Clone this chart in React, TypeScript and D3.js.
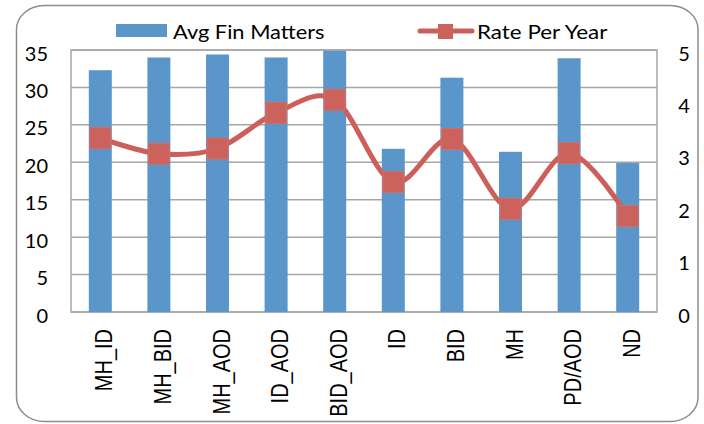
import { useEffect, useRef } from "react";
import * as d3 from "d3";

const categories = ["MH_ID", "MH_BID", "MH_AOD", "ID_AOD", "BID_AOD", "ID", "BID", "MH", "PD/AOD", "ND"];
const avgFinMatters = [32.3, 34.0, 34.4, 34.0, 34.9, 21.8, 31.3, 21.4, 33.9, 19.9];
const ratePerYear = [3.32, 3.02, 3.12, 3.8, 4.05, 2.48, 3.3, 1.97, 3.03, 1.83];
const leftTicks = [0, 5, 10, 15, 20, 25, 30, 35];
const rightTicks = [0, 1, 2, 3, 4, 5];

const W = 704;
const H = 424;
const PLOT = { left: 71, right: 657, top: 50, bottom: 312 };
const BAR = "#5B96CB";
const RED = "#CD5F5A";
const GRID = "#A6A6A6";
const SX = 1.18; // category labels look stretched sideways
const TICK_FONT = "Lato, 'Open Sans', sans-serif";

export default function App() {
  const svgRef = useRef<SVGSVGElement>(null);

  useEffect(() => {
    const svg = d3.select(svgRef.current);
    svg.selectAll("*").remove();

    const x = d3.scaleBand().domain(categories).range([PLOT.left, PLOT.right]).paddingInner(0).paddingOuter(0);
    const yL = d3.scaleLinear().domain([0, 35]).range([PLOT.bottom, PLOT.top]);
    const yR = d3.scaleLinear().domain([0, 5]).range([PLOT.bottom, PLOT.top]);
    const cx = (i: number) => x(categories[i])! + x.bandwidth() / 2;

    // outer frame
    svg
      .append("rect")
      .attr("x", 16.5)
      .attr("y", 5.5)
      .attr("width", 681.5)
      .attr("height", 416)
      .attr("rx", 28)
      .attr("ry", 24)
      .attr("fill", "#fff")
      .attr("stroke", "#8c8c8c")
      .attr("stroke-width", 1.5);

    // grid
    svg
      .append("g")
      .selectAll("line")
      .data(leftTicks)
      .join("line")
      .attr("x1", PLOT.left)
      .attr("x2", PLOT.right)
      .attr("y1", (d) => yL(d))
      .attr("y2", (d) => yL(d))
      .attr("stroke", GRID)
      .attr("stroke-width", 1.5);

    svg
      .append("rect")
      .attr("x", PLOT.left)
      .attr("y", PLOT.top)
      .attr("width", PLOT.right - PLOT.left)
      .attr("height", PLOT.bottom - PLOT.top)
      .attr("fill", "none")
      .attr("stroke", GRID)
      .attr("stroke-width", 1.5);

    // bars
    const bw = 23;
    svg
      .append("g")
      .selectAll("rect")
      .data(avgFinMatters)
      .join("rect")
      .attr("x", (_, i) => cx(i) - bw / 2)
      .attr("y", (d) => yL(d))
      .attr("width", bw)
      .attr("height", (d) => PLOT.bottom - yL(d))
      .attr("fill", BAR);

    // left axis labels
    svg
      .append("g")
      .selectAll("text")
      .data(leftTicks)
      .join("text")
      .attr("x", 48)
      .attr("y", (d) => yL(d) + 10.5)
      .attr("text-anchor", "end")
      .attr("font-family", TICK_FONT)
      .attr("font-size", 20)
      .attr("fill", "#000")
      .text((d) => d);

    // right axis labels
    svg
      .append("g")
      .selectAll("text")
      .data(rightTicks)
      .join("text")
      .attr("x", 684)
      .attr("y", (d) => yR(d) + 10.5)
      .attr("text-anchor", "middle")
      .attr("font-family", TICK_FONT)
      .attr("font-size", 20)
      .attr("fill", "#000")
      .text((d) => d);

    // category labels
    svg
      .append("g")
      .selectAll("text")
      .data(categories)
      .join("text")
      .attr("transform", (_, i) => `translate(${cx(i) + 12},329) scale(${SX},1) rotate(-90)`)
      .attr("text-anchor", "end")
      .attr("font-family", "'Liberation Sans', Arial, sans-serif")
      .attr("font-size", 20)
      .attr("fill", "#000")
      .text((d) => d);

    // line
    const line = d3
      .line<number>()
      .x((_, i) => cx(i))
      .y((d) => yR(d))
      .curve(d3.curveCardinal.tension(0));

    svg
      .append("path")
      .datum(ratePerYear)
      .attr("d", line)
      .attr("fill", "none")
      .attr("stroke", RED)
      .attr("stroke-width", 5)
      .attr("stroke-linecap", "round");

    const ms = 21;
    svg
      .append("g")
      .selectAll("rect")
      .data(ratePerYear)
      .join("rect")
      .attr("x", (_, i) => cx(i) - ms / 2)
      .attr("y", (d) => yR(d) - ms / 2)
      .attr("width", ms)
      .attr("height", ms)
      .attr("fill", "#CC625C")
      .attr("stroke", "#D26F69")
      .attr("stroke-width", 1);

    // legend
    const lg = svg.append("g");
    lg.append("rect").attr("x", 116).attr("y", 24).attr("width", 51).attr("height", 13).attr("fill", BAR);
    lg.append("text")
      .attr("transform", "translate(173,39) scale(1.12,1)")
      .attr("font-family", TICK_FONT)
      .attr("font-size", 19.5)
      .attr("fill", "#000")
      .text("Avg Fin Matters");

    lg.append("line")
      .attr("x1", 420)
      .attr("x2", 472)
      .attr("y1", 31)
      .attr("y2", 31)
      .attr("stroke", RED)
      .attr("stroke-width", 5)
      .attr("stroke-linecap", "round");
    lg.append("rect")
      .attr("x", 438)
      .attr("y", 24)
      .attr("width", 15)
      .attr("height", 15)
      .attr("fill", "#CC625C");
    lg.append("text")
      .attr("transform", "translate(477,39) scale(1.15,1)")
      .attr("font-family", TICK_FONT)
      .attr("font-size", 19.5)
      .attr("fill", "#000")
      .text("Rate Per Year");
  }, []);

  return (
    <svg
      ref={svgRef}
      width={W}
      height={H}
      style={{ position: "absolute", left: 0, top: 0, display: "block" }}
    />
  );
}
